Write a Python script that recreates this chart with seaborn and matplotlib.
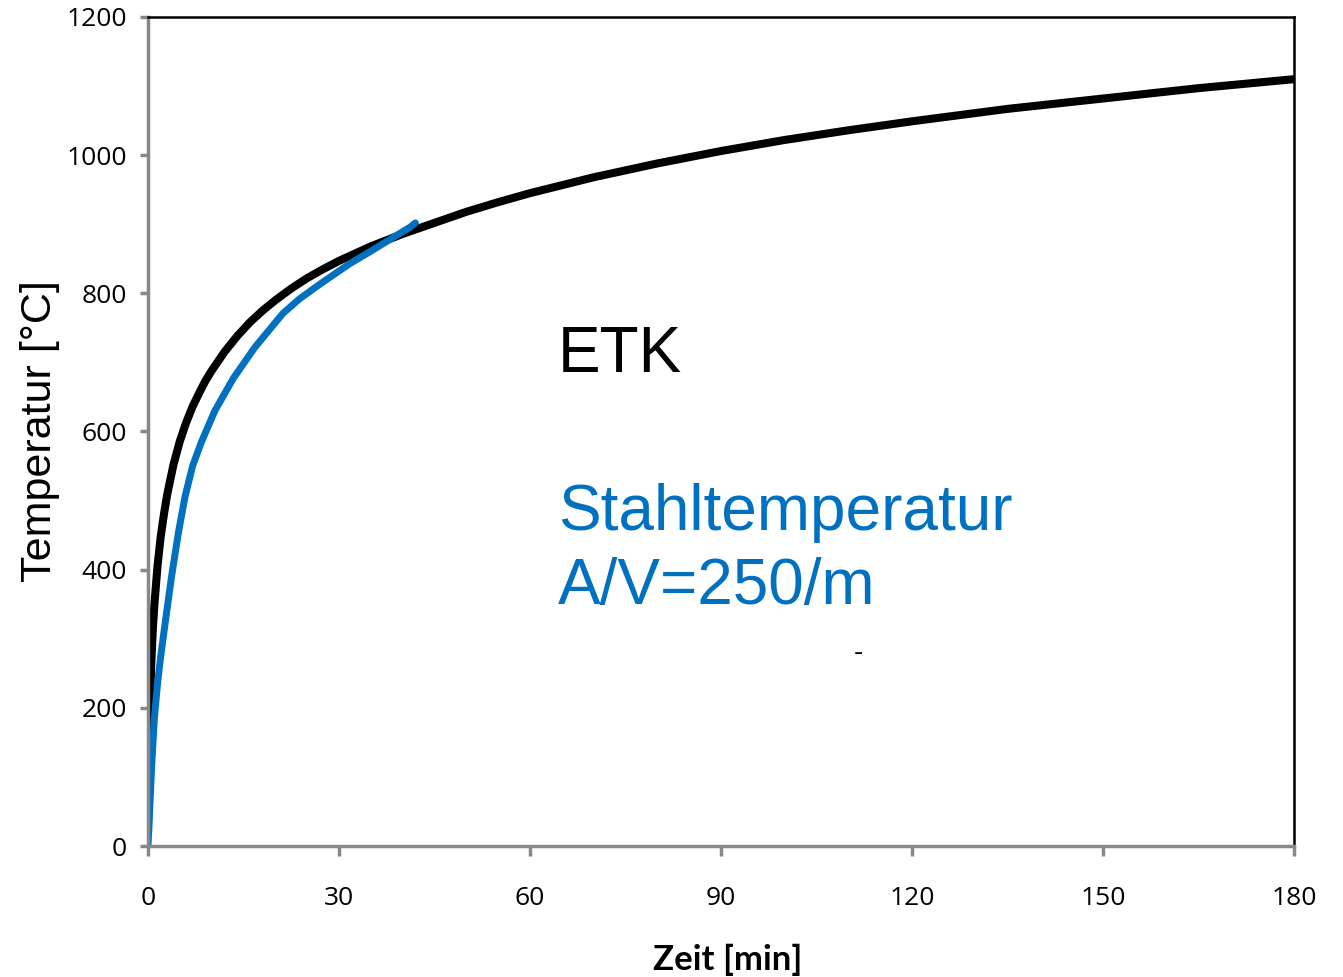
import pandas as pd
import numpy as np
import matplotlib
matplotlib.use("Agg")
import matplotlib.pyplot as plt
import seaborn as sns

# Einheitstemperaturkurve (ETK), values
etk_t = [0, 0.1, 0.25, 0.5, 0.75, 1, 1.5, 2, 2.5, 3, 4, 5, 6, 7, 8, 9, 10,
         12, 14, 16, 18, 20, 22.5, 25, 27.5, 30, 35, 40, 45, 50, 55, 60,
         70, 80, 90, 100, 110, 120, 135, 150, 165, 180]
etk_temp = [20, 108, 185, 261, 312, 349, 406, 448, 480, 508, 552, 586, 613,
            636, 655, 673, 688, 715, 738, 758, 775, 790, 807, 822, 835, 847,
            868, 886, 902, 918, 932, 945, 968, 988, 1006, 1022, 1036, 1049,
            1067, 1082, 1097, 1110]

# Stahltemperatur A/V = 250/m
steel_t = [0, 0.3, 0.6, 1.0, 1.5, 2.0, 2.8, 3.7, 4.8, 5.8, 7.0, 8.4, 10.5,
           13.4, 16.8, 21.2, 23.8, 26.5, 29, 31.7, 35, 38, 41.2, 42]
steel_temp = [0, 60, 120, 185, 235, 275, 330, 390, 455, 505, 550, 585, 630,
              677, 722, 771, 792, 810, 826, 843, 861, 878, 896, 902]

x_ticks = [0, 30, 60, 90, 120, 150, 180]
y_ticks = [0, 200, 400, 600, 800, 1000, 1200]

etk = pd.DataFrame({"t": etk_t, "temp": etk_temp})
steel = pd.DataFrame({"t": steel_t, "temp": steel_temp})

sns.set_style("white")
plt.rcParams['font.family'] = ['Open Sans', 'DejaVu Sans']

fig = plt.figure(figsize=(13.43, 9.77), dpi=100)
ax = fig.add_axes([148 / 1343, 131 / 977, 1146 / 1343, 829 / 977])

sns.lineplot(data=etk, x="t", y="temp", color="black", linewidth=5.8,
             ax=ax, sort=False, solid_capstyle="round", solid_joinstyle="round")
sns.lineplot(data=steel, x="t", y="temp", color="#0070C0", linewidth=5.0,
             ax=ax, sort=False, solid_capstyle="round", solid_joinstyle="round")

ax.set_xlim(0, 180)
ax.set_ylim(0, 1200)
ax.set_xticks(x_ticks)
ax.set_yticks(y_ticks)
ax.tick_params(axis="x", direction="out", length=7, width=2.5, color="#888888",
               pad=22, labelsize=19, labelcolor="black")
ax.tick_params(axis="y", direction="out", length=6, width=2.5, color="#888888",
               pad=9, labelsize=19, labelcolor="black")
ax.tick_params(bottom=True, left=True)

for side in ["left", "bottom"]:
    ax.spines[side].set_color("#888888")
    ax.spines[side].set_linewidth(2.5)
for side in ["top", "right"]:
    ax.spines[side].set_color("black")
    ax.spines[side].set_linewidth(1.8)

ax.set_xlabel("Zeit [min]", fontsize=25, fontweight="bold", family="Lato",
              color="black")
ax.xaxis.set_label_coords(0.506, -0.118)
ax.set_ylabel("Temperatur [°C]", fontsize=31, family="Liberation Sans",
              labelpad=5, color="black")

ax.text(64.4, 686, "ETK", fontsize=46, family="Liberation Sans", color="black")
ax.text(64.4, 457, "Stahltemperatur", fontsize=46, family="Liberation Sans",
        color="#0070C0")
ax.text(64.4, 351, "A/V=250/m", fontsize=46, family="Liberation Sans",
        color="#0070C0")
ax.text(111.5, 280, "-", fontsize=20, family="Liberation Sans", color="black",
        ha="center", va="center")

fig.savefig("out.png", dpi=100)
